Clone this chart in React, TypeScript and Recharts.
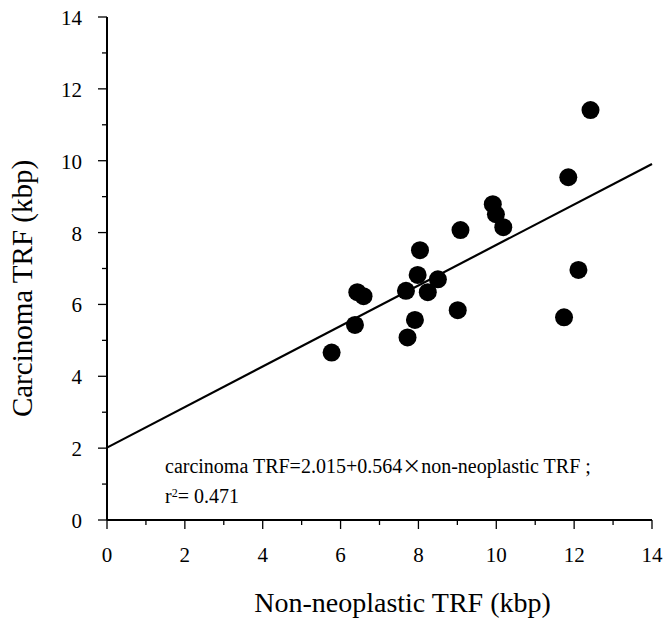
import React from "react";
import { ScatterChart, Scatter, XAxis, YAxis, ReferenceLine, Label } from "recharts";

// non-neoplastic TRF (kbp) vs carcinoma TRF (kbp)
const nonNeoplastic = [5.77, 6.37, 6.43, 6.59, 7.68, 7.72, 7.91, 7.98, 8.04, 8.24, 8.5, 9.01, 9.08, 9.91, 9.99, 10.18, 11.74, 11.85, 12.11, 12.42];
const carcinoma = [4.66, 5.43, 6.34, 6.23, 6.38, 5.08, 5.57, 6.82, 7.51, 6.34, 6.7, 5.84, 8.07, 8.79, 8.51, 8.15, 5.64, 9.54, 6.96, 11.41];

const axisTicks = [0, 1, 2, 3, 4, 5, 6, 7, 8, 9, 10, 11, 12, 13, 14];
const intercept = 2.015;
const slope = 0.564;
const xTitle = "Non-neoplastic TRF (kbp)";
const yTitle = "Carcinoma TRF (kbp)";
const eqLeft = "carcinoma TRF=2.015+0.564";
const eqRight = "non-neoplastic TRF ;";
const eqLine2 = "= 0.471";

const points = nonNeoplastic.map((x, i) => ({ x, y: carcinoma[i] }));
const FONT = "'Liberation Serif', 'Times New Roman', serif";

function FrameTick(props: any) {
  const { x, y, payload, side } = props;
  const major = payload.value % 2 === 0;
  const len = major ? 9 : 5;
  let line;
  let label = null;
  if (side === "bottom") {
    line = <line x1={x} y1={y} x2={x} y2={y + len} stroke="#000" strokeWidth={1.3} />;
    if (major)
      label = (
        <text x={x} y={y + 42} textAnchor="middle" fontSize={21} fontFamily={FONT} fill="#000">
          {payload.value}
        </text>
      );
  } else if (side === "top") {
    line = <line x1={x} y1={y} x2={x} y2={y - len} stroke="#000" strokeWidth={1.3} />;
  } else if (side === "left") {
    line = <line x1={x} y1={y} x2={x - len} y2={y} stroke="#000" strokeWidth={1.3} />;
    if (major)
      label = (
        <text x={x - 25} y={y + 8} textAnchor="end" fontSize={21} fontFamily={FONT} fill="#000">
          {payload.value}
        </text>
      );
  } else {
    line = <line x1={x} y1={y} x2={x + len} y2={y} stroke="#000" strokeWidth={1.3} />;
  }
  return (
    <g>
      {line}
      {label}
    </g>
  );
}

const axisLine = { stroke: "#000", strokeWidth: 2 };

export default function App() {
  return (
    <div style={{ position: "absolute", left: 0, top: 0, width: 663, height: 618, background: "#fff" }}>
      <ScatterChart width={663} height={618} margin={{ top: 17, right: 11, left: 0, bottom: 0 }}>
        <XAxis
          type="number"
          dataKey="x"
          domain={[0, 14]}
          ticks={axisTicks}
          interval={0}
          allowDataOverflow
          height={98}
          tickSize={0}
          tickMargin={0}
          tickLine={false}
          axisLine={axisLine}
          tick={(p: any) => <FrameTick {...p} side="bottom" />}
        >
          <Label
            content={({ viewBox }: any) => (
              <text
                x={viewBox.x + viewBox.width / 2 + 23}
                y={viewBox.y + 92}
                textAnchor="middle"
                fontSize={28}
                fontFamily={FONT}
                fill="#000"
              >
                {xTitle}
              </text>
            )}
          />
        </XAxis>
        <XAxis
          xAxisId="top"
          orientation="top"
          type="number"
          dataKey="x"
          domain={[0, 14]}
          ticks={axisTicks}
          interval={0}
          allowDataOverflow
          height={0}
          tickSize={0}
          tickMargin={0}
          tickLine={false}
          axisLine={axisLine}
          tick={(p: any) => <FrameTick {...p} side="top" />}
        />
        <YAxis
          type="number"
          dataKey="y"
          domain={[0, 14]}
          ticks={axisTicks}
          interval={0}
          allowDataOverflow
          width={107}
          tickSize={0}
          tickMargin={0}
          tickLine={false}
          axisLine={axisLine}
          tick={(p: any) => <FrameTick {...p} side="left" />}
        >
          <Label
            content={({ viewBox }: any) => {
              const cx = viewBox.x + 32;
              const cy = viewBox.y + viewBox.height / 2 + 20;
              return (
                <text
                  x={cx}
                  y={cy}
                  textAnchor="middle"
                  fontSize={29}
                  fontFamily={FONT}
                  fill="#000"
                  transform={`rotate(-90, ${cx}, ${cy})`}
                >
                  {yTitle}
                </text>
              );
            }}
          />
        </YAxis>
        <YAxis
          yAxisId="right"
          orientation="right"
          type="number"
          dataKey="y"
          domain={[0, 14]}
          ticks={axisTicks}
          interval={0}
          allowDataOverflow
          width={0}
          tickSize={0}
          tickMargin={0}
          tickLine={false}
          axisLine={axisLine}
          tick={(p: any) => <FrameTick {...p} side="right" />}
        />
        <ReferenceLine
          segment={[
            { x: 0, y: intercept },
            { x: 14, y: intercept + slope * 14 },
          ]}
          stroke="#000"
          strokeWidth={2.2}
          ifOverflow="visible"
        />
        <Scatter
          data={points}
          isAnimationActive={false}
          shape={(p: any) => <circle cx={p.cx} cy={p.cy} r={9} fill="#000" />}
        />
        <Scatter
          xAxisId="top"
          yAxisId="right"
          data={points}
          isAnimationActive={false}
          shape={() => <g />}
        />
      </ScatterChart>
      <div
        style={{
          position: "absolute",
          left: 165,
          top: 450,
          fontFamily: FONT,
          fontSize: 20,
          lineHeight: "30px",
          color: "#000",
          whiteSpace: "nowrap",
        }}
      >
        <div>
          {eqLeft}
          <span style={{ fontFamily: "'Noto Sans CJK JP'", fontSize: 19 }}>{"\u00D7"}</span>
          {eqRight}
        </div>
        <div>
          r<sup style={{ fontSize: 12, verticalAlign: "6px", lineHeight: 0 }}>2</sup>
          {eqLine2}
        </div>
      </div>
    </div>
  );
}
